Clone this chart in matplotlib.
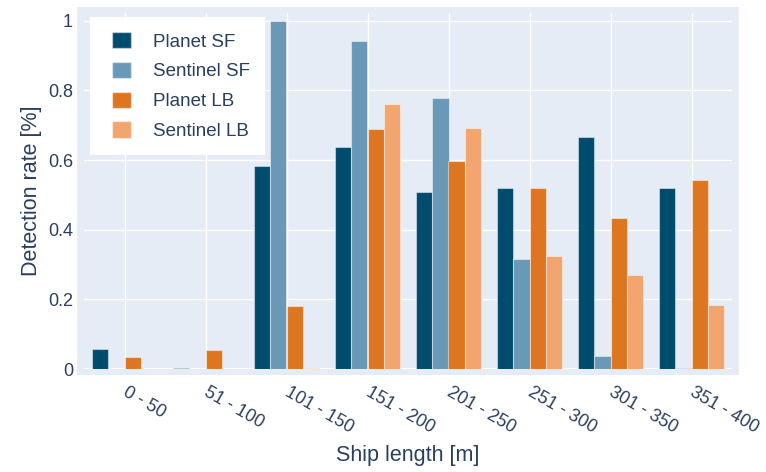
import numpy as np
import matplotlib.pyplot as plt
from matplotlib.patches import Patch, Rectangle
from matplotlib.legend_handler import HandlerPatch

categories = ['0 - 50', '51 - 100', '101 - 150', '151 - 200',
              '201 - 250', '251 - 300', '301 - 350', '351 - 400']
series_names = ['Planet SF', 'Sentinel SF', 'Planet LB', 'Sentinel LB']
planet_sf = [0.057, 0.004, 0.583, 0.637, 0.507, 0.519, 0.666, 0.519]
sentinel_sf = [0.0, 0.0, 1.0, 0.941, 0.777, 0.315, 0.037, 0.003]
planet_lb = [0.035, 0.055, 0.181, 0.688, 0.597, 0.519, 0.434, 0.542]
sentinel_lb = [0.0, 0.0, 0.003, 0.760, 0.692, 0.325, 0.270, 0.183]
series_colors = ['#004c6d', '#6a98b7', '#de7621', '#f2a56f']

text_color = '#2a3f5f'
bg_color = '#e5ecf6'
plt.rcParams['font.family'] = ['Liberation Sans', 'DejaVu Sans']

W, H = 766, 472
fig = plt.figure(figsize=(W / 100, H / 100), dpi=100)

# plotly-like background that sticks out a bit past the plot area
fig.patches.append(Rectangle((77 / W, 1 - 375 / H), 662 / W, 368.3 / H,
                             transform=fig.transFigure, facecolor=bg_color,
                             edgecolor='none', zorder=-1))

ax = fig.add_axes([84 / W, 1 - 369 / H, 648 / W, 355.7 / H])
ax.set_zorder(1)
ax.set_facecolor(bg_color)
for s in ax.spines.values():
    s.set_visible(False)

x = np.arange(len(categories))
width = 0.2
all_series = [planet_sf, sentinel_sf, planet_lb, sentinel_lb]
for i, (vals, name, col) in enumerate(zip(all_series, series_names, series_colors)):
    ax.bar(x + (i - 1.5) * width, vals, width, color=col, label=name,
           edgecolor=(1, 1, 1, 0.45), linewidth=0.8, zorder=3)

ax.set_xlim(-0.5, len(categories) - 0.5)
ax.set_ylim(0, 1.0212)
ax.set_yticks([0, 0.2, 0.4, 0.6, 0.8, 1.0])
ax.set_yticklabels(['0', '0.2', '0.4', '0.6', '0.8', '1'])
ax.set_xticks(x)
ax.set_xticklabels(categories, rotation=-30, ha='left', va='center',
                   rotation_mode='anchor')
ax.tick_params(axis='both', length=0, labelsize=13, labelcolor=text_color)
ax.tick_params(axis='x', pad=16)
ax.tick_params(axis='y', pad=8)
ax.grid(True, color='white', linewidth=1.0, zorder=1)
ax.set_axisbelow(True)
ax.axhline(0, color='white', linewidth=2, zorder=2)

fig.text(32 / W, 1 - 191 / H, 'Detection rate [%]', rotation=90,
         ha='center', va='center', fontsize=15.5, color=text_color)
fig.text(408 / W, 1 - 455 / H, 'Ship length [m]', ha='center', va='center',
         fontsize=15.5, color=text_color)


# square legend swatch pushed a bit to the right inside its slot
def square_patch(legend, orig_handle, xdescent, ydescent, width, height, fontsize):
    off = 0.27 * width
    return Rectangle((-xdescent + off, -ydescent), width - off, height)


handles = [Patch(facecolor=c, edgecolor=(1, 1, 1, 0.45)) for c in series_colors]
leg = ax.legend(handles, series_names, loc='upper left',
                bbox_to_anchor=(90 / W, 1 - 17 / H), bbox_transform=fig.transFigure,
                borderaxespad=0, frameon=True, fancybox=False, framealpha=1,
                edgecolor='none', facecolor='white', fontsize=13.5,
                handlelength=1.39, handleheight=0.95, handletextpad=1.17,
                labelspacing=0.6, borderpad=0.8,
                handler_map={Patch: HandlerPatch(patch_func=square_patch)})
for t in leg.get_texts():
    t.set_color(text_color)

fig.savefig('out.png', dpi=100)
